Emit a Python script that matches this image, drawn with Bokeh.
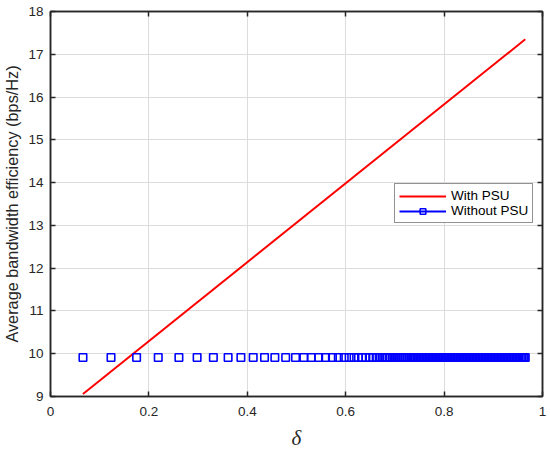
import math
from bokeh.plotting import figure
from bokeh.models import (LinearAxis, FixedTicker, Legend, LegendItem, Range1d,
                          ColumnDataSource, CustomLabelingPolicy)
from bokeh.embed import file_html
from bokeh.resources import INLINE

# ---- data ----
with_psu_x = [0.066, 0.965]
with_psu_y = [9.06, 17.35]

without_psu_x = [
    0.066, 0.123, 0.175, 0.219, 0.261, 0.298, 0.331, 0.361, 0.387, 0.412,
    0.435, 0.456, 0.478, 0.498, 0.515, 0.530, 0.545, 0.559, 0.573, 0.585,
    0.597, 0.607, 0.617, 0.626, 0.634, 0.641, 0.648, 0.655, 0.662, 0.668,
    0.674, 0.680, 0.685, 0.690, 0.694, 0.698, 0.702, 0.706, 0.710, 0.714,
    0.718, 0.722, 0.726, 0.730, 0.733, 0.736, 0.739, 0.742, 0.745, 0.748,
    0.751, 0.754, 0.757, 0.760, 0.763, 0.766, 0.769, 0.772, 0.775, 0.778,
    0.781, 0.784, 0.787, 0.790, 0.793, 0.796, 0.799, 0.802, 0.805, 0.808,
    0.811, 0.814, 0.817, 0.820, 0.823, 0.826, 0.829, 0.832, 0.835, 0.838,
    0.841, 0.844, 0.847, 0.850, 0.853, 0.856, 0.859, 0.862, 0.865, 0.868,
    0.871, 0.874, 0.877, 0.880, 0.883, 0.886, 0.889, 0.892, 0.895, 0.898,
    0.901, 0.904, 0.907, 0.910, 0.913, 0.916, 0.919, 0.922, 0.925, 0.928,
    0.931, 0.934, 0.937, 0.940, 0.943, 0.946, 0.949, 0.952, 0.955, 0.958,
    0.961, 0.963, 0.965,
]
without_psu_y = [9.91] * len(without_psu_x)

x_ticks = [0, 0.2, 0.4, 0.6, 0.8, 1]
x_tick_labels = ["0", "0.2", "0.4", "0.6", "0.8", "1"]
y_ticks = [9, 10, 11, 12, 13, 14, 15, 16, 17, 18]
y_tick_labels = [str(v) for v in y_ticks]

series_names = ["With PSU", "Without PSU"]
x_label = "δ"
y_label = "Average bandwidth efficiency (bps/Hz)"

# ---- figure ----
FONT = "Liberation Sans"
AX = "#262626"

p = figure(width=548, height=452, output_backend="svg", toolbar_location=None,
           x_range=Range1d(0, 1), y_range=Range1d(9, 18),
           x_axis_label=x_label, y_axis_label=y_label,
           min_border_left=0, min_border_right=6, min_border_top=11,
           min_border_bottom=0)
p.background_fill_color = "white"
p.border_fill_color = "white"
p.outline_line_color = AX
p.outline_line_width = 1.5

xt = FixedTicker(ticks=x_ticks)
yt = FixedTicker(ticks=y_ticks)

for ax, ticks, labels in ((p.xaxis[0], x_ticks, x_tick_labels),
                          (p.yaxis[0], y_ticks, y_tick_labels)):
    ax.ticker = FixedTicker(ticks=ticks)
    ax.major_label_overrides = {t: l for t, l in zip(ticks, labels)}
    ax.major_tick_in = 5
    ax.major_tick_out = 0
    ax.minor_tick_line_color = None
    ax.axis_line_color = AX
    ax.axis_line_width = 1.5
    ax.major_tick_line_color = AX
    ax.major_tick_line_width = 1.5
    ax.major_label_text_font = FONT
    ax.major_label_text_font_size = "13.5px"
    ax.major_label_text_color = AX

p.xaxis[0].major_label_standoff = 10
p.xaxis[0].axis_label_standoff = 7
p.xaxis[0].axis_label_text_font = "Liberation Serif"
p.xaxis[0].axis_label_text_font_style = "italic"
p.xaxis[0].axis_label_text_font_size = "21px"
p.xaxis[0].axis_label_text_color = AX

p.yaxis[0].major_label_standoff = 7
p.yaxis[0].axis_label_standoff = 4
p.yaxis[0].axis_label_text_font = FONT
p.yaxis[0].axis_label_text_font_style = "normal"
p.yaxis[0].axis_label_text_font_size = "16.3px"
p.yaxis[0].axis_label_text_color = AX

# box axes (top/right) with inward ticks, labels suppressed by policy
hide_all = CustomLabelingPolicy(code="""
for (const i of indices) { indices.unset(i) }
return indices
""")
for loc, ticks in (("above", x_ticks), ("right", y_ticks)):
    a = LinearAxis(ticker=FixedTicker(ticks=ticks))
    a.major_label_policy = hide_all
    a.major_label_text_font_size = "13.5px"
    a.major_label_text_color = None
    a.major_label_standoff = 0
    a.major_tick_in = 5
    a.major_tick_out = 0
    a.minor_tick_line_color = None
    a.axis_line_color = AX
    a.axis_line_width = 1.5
    a.major_tick_line_color = AX
    a.major_tick_line_width = 1.5
    p.add_layout(a, loc)

p.xgrid.ticker = xt
p.ygrid.ticker = yt
for g in (p.xgrid[0], p.ygrid[0]):
    g.grid_line_color = "#dcdcdc"
    g.grid_line_width = 1

# ---- series ----
r_red = p.line(with_psu_x, with_psu_y, line_color="#ff0000", line_width=2)

src_b = ColumnDataSource(dict(x=without_psu_x, y=without_psu_y))
r_blue_pts = p.scatter("x", "y", source=src_b, marker="square", size=7.5,
                       line_color="#0000ff", line_width=1.6, fill_color=None)
# legend-only line for the blue series (no connecting line visible in plot)
r_blue_line = p.line([math.nan], [math.nan], line_color="#0000ff", line_width=2)

legend = Legend(items=[
    LegendItem(label=series_names[0], renderers=[r_red]),
    LegendItem(label=series_names[1], renderers=[r_blue_line, r_blue_pts]),
], location=(344, 173))
legend.label_text_font = FONT
legend.label_text_font_size = "13.5px"
legend.label_text_color = "#000000"
legend.glyph_width = 47
legend.glyph_height = 14
legend.label_standoff = 5
legend.label_height = 14
legend.padding = 4
legend.spacing = 0
legend.margin = 0
legend.border_line_color = AX
legend.border_line_width = 1.5
legend.background_fill_color = "white"
legend.background_fill_alpha = 1
p.add_layout(legend, "center")

open("out.html", "w").write(file_html(p, INLINE))
